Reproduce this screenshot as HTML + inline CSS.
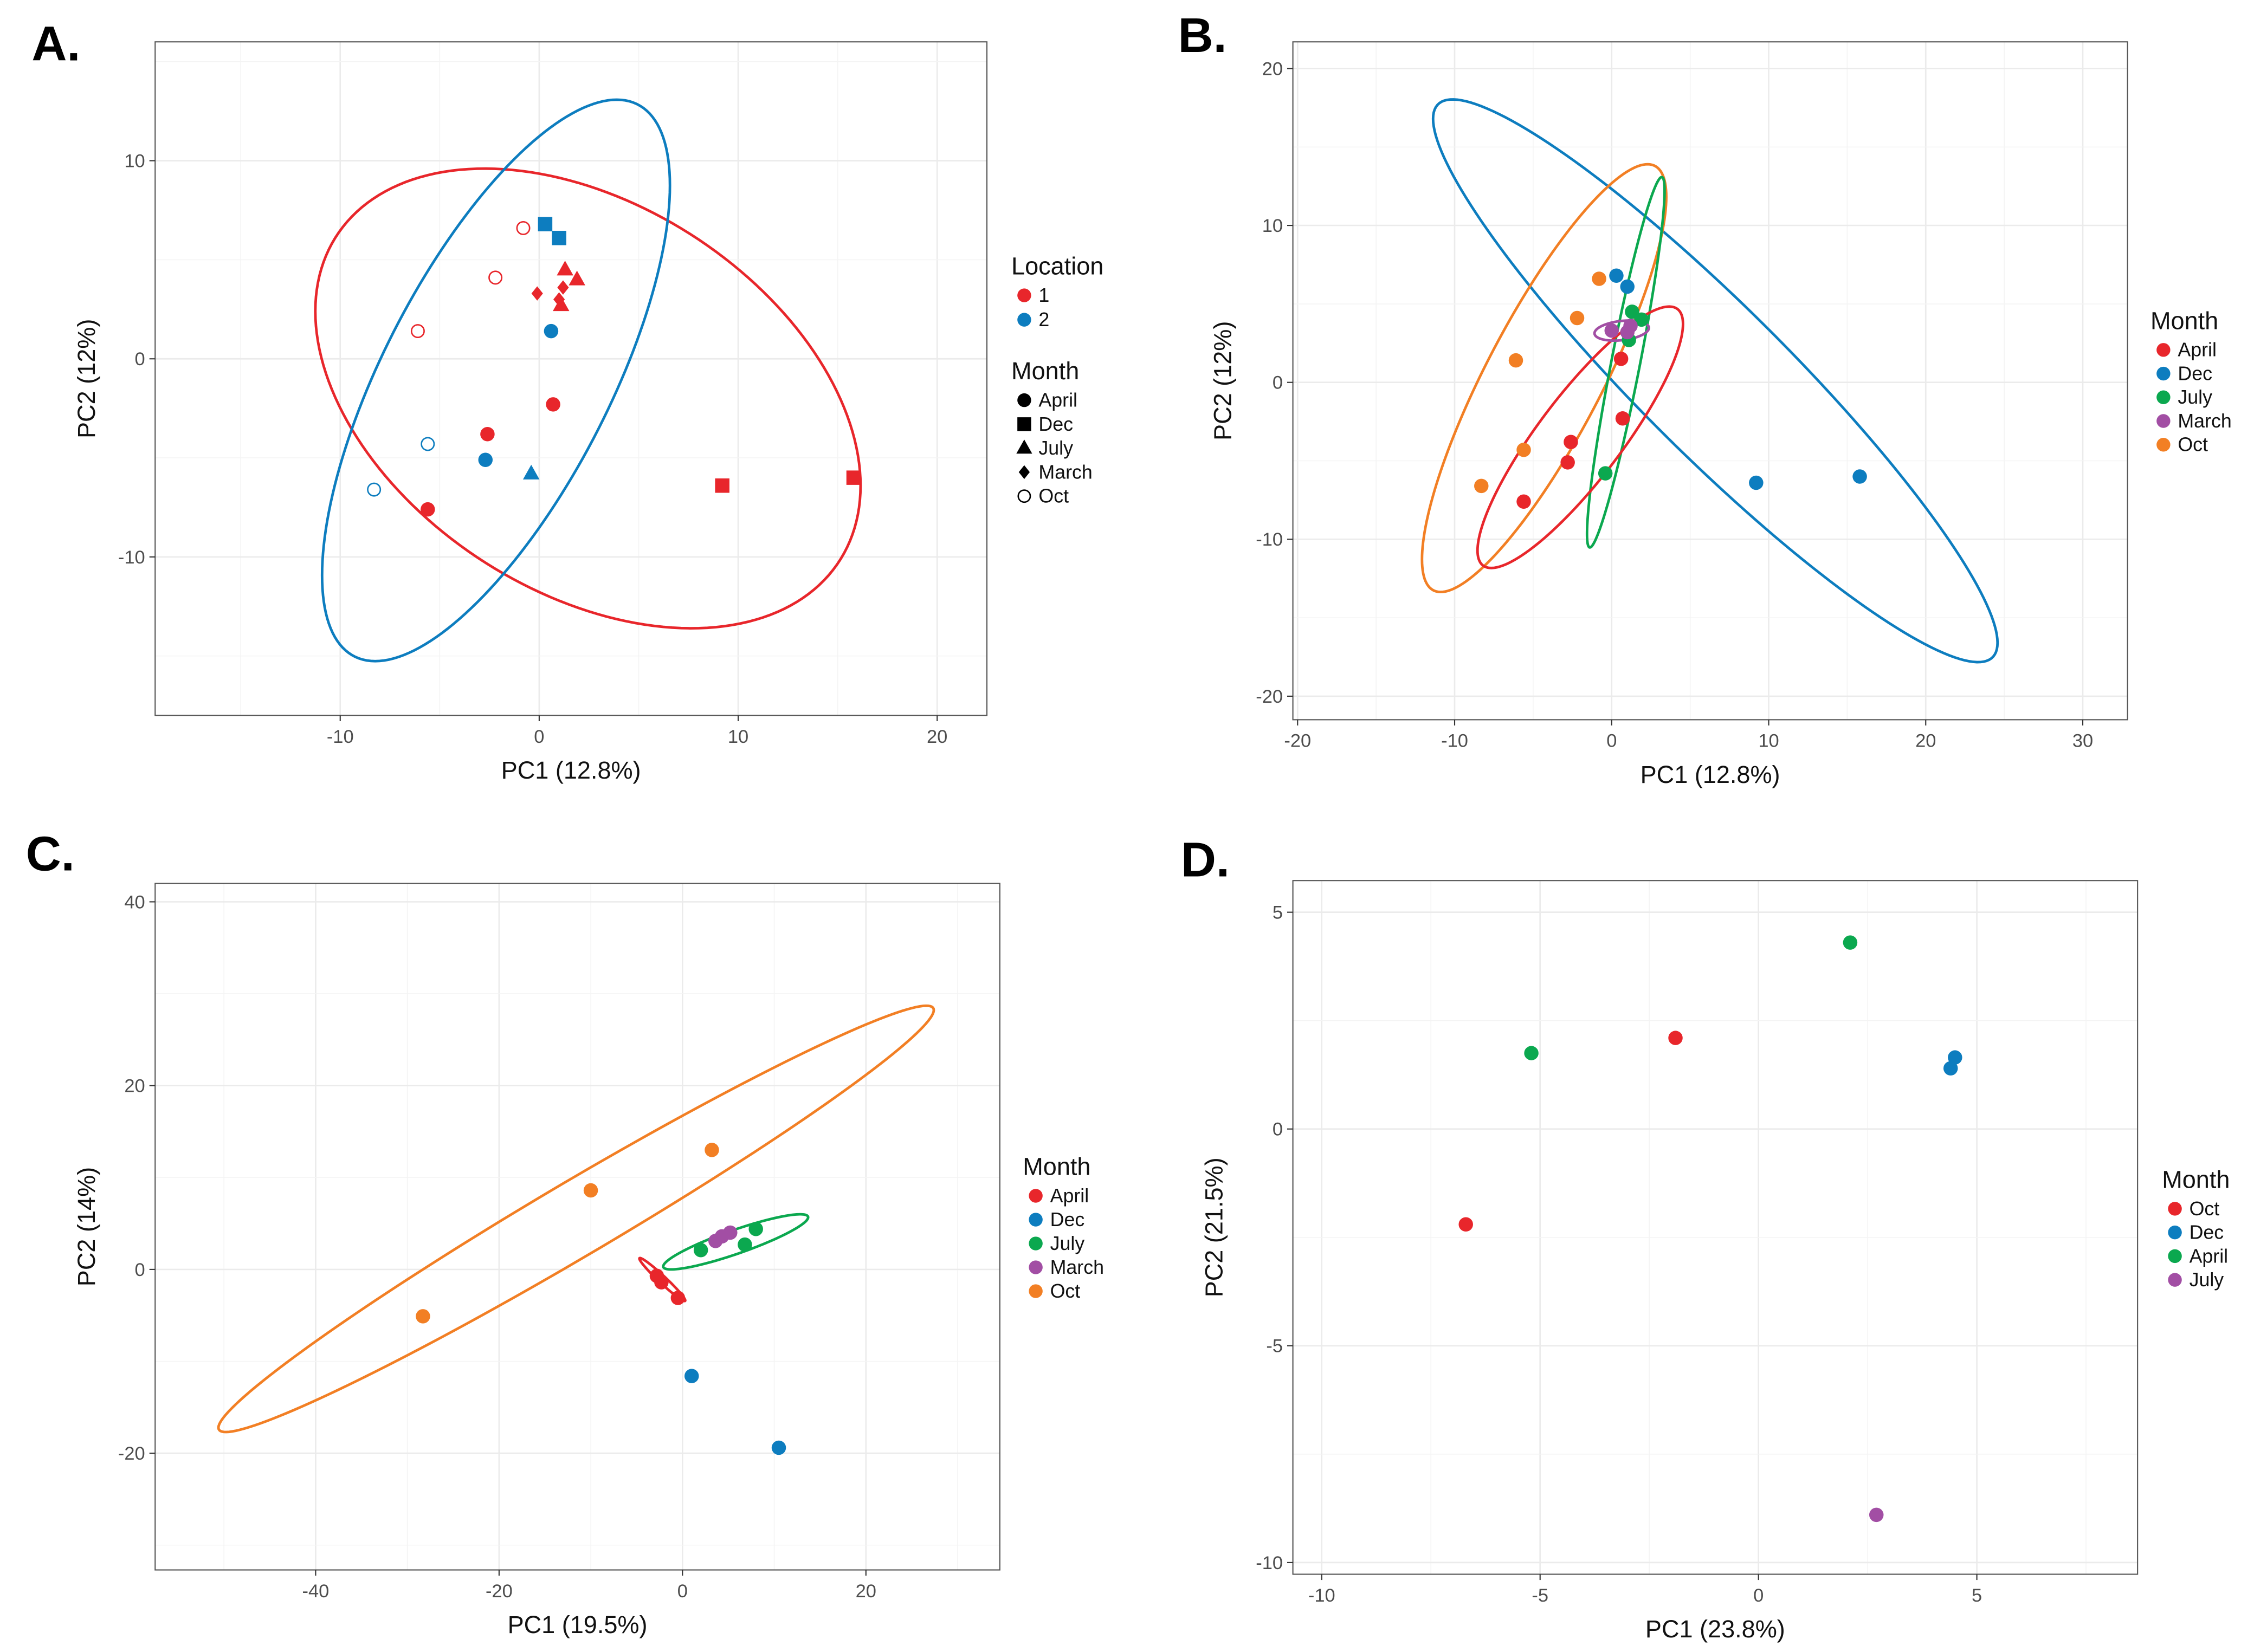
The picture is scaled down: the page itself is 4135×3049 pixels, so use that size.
<!DOCTYPE html>
<html><head><meta charset="utf-8">
<style>
html,body{margin:0;padding:0;background:#fff;}
svg{display:block;}
text{font-family:"Liberation Sans",sans-serif;}
</style></head>
<body>
<svg id="fig" width="4135" height="3049" viewBox="0 0 1560 1150" xmlns="http://www.w3.org/2000/svg"></svg>
<script>
// ---------- Panel A data ----------
const aX = [-0.8,-2.2,-6.1,-5.6,-8.3, 0.3,1.0, 1.3,1.9,1.1, -0.1,1.2,1.0, 0.6,-2.7, 0.7,-2.6,-5.6, -0.4, 9.2,15.8];
const aY = [6.6,4.1,1.4,-4.3,-6.6, 6.8,6.1, 4.5,4.0,2.7, 3.3,3.6,3.0, 1.4,-5.1, -2.3,-3.8,-7.6, -5.8, -6.4,-6.0];
const aLoc = [1,1,1,2,2, 2,2, 1,1,1, 1,1,1, 2,2, 1,1,1, 2, 1,1];
const aMonth = ["Oct","Oct","Oct","Oct","Oct","Dec","Dec","July","July","July","March","March","March","April","April","April","April","April","July","Dec","Dec"];
const aEllLoc = [1,2];
const aEllCenter = [[2.45,-2.0],[-2.17,-1.09]];
const aEllCov = [[187.7,-60.3,134.6],[76.4,86,200.8]];
// ---------- Panel B data ----------
const bX = [0.6,0.7,-2.6,-2.8,-5.6, 0.3,1.0,9.2,15.8, 1.3,1.9,1.1,-0.4, 0.0,1.2,1.0, -0.8,-2.2,-6.1,-5.6,-8.3];
const bY = [1.5,-2.3,-3.8,-5.1,-7.6, 6.8,6.1,-6.4,-6.0, 4.5,4.0,2.7,-5.8, 3.3,3.6,3.2, 6.6,4.1,1.4,-4.3,-6.6];
const bMonth = ["April","April","April","April","April","Dec","Dec","Dec","Dec","July","July","July","July","March","March","March","Oct","Oct","Oct","Oct","Oct"];
const bEllMonth = ["Dec","Oct","July","April","March"];
const bEllCenter = [[6.6,0.1],[-4.3,0.27],[0.9,1.28],[-2.0,-3.5],[0.64,3.3]];
const bEllCov = [[323,-300,321.5],[60.5,89.8,185.8],[6.1,27.0,139.3],[42.8,47.2,69.4],[3.0,0.3,0.41]];
// ---------- Panel C data ----------
const cX = [3.2,-10,-28.3, 2,6.8,8, 3.6,4.3,5.2, -2.8,-2.3,-0.5, 1,10.5];
const cY = [13.0,8.6,-5.1, 2.1,2.7,4.4, 3.1,3.6,4.0, -0.7,-1.4,-3.1, -11.6,-19.4];
const cMonth = ["Oct","Oct","Oct","July","July","July","March","March","March","April","April","April","Dec","Dec"];
const cEllMonth = ["Oct","July","April"];
const cEllCenter = [[-11.6,5.5],[5.8,3.0],[-2.2,-1.1]];
const cEllCov = [[1521,886,538],[62.4,21.1,9.0],[6.25,-5.7,5.48]];
// ---------- Panel D data ----------
const dX = [-1.9,-6.7, 4.4,4.5, 2.1,-5.2, 2.7];
const dY = [2.1,-2.2, 1.4,1.65, 4.3,1.75, -8.9];
const dMonth = ["Oct","Oct","Dec","Dec","April","April","July"];
// ---------- tick labels ----------
const aXTicks = [-10,0,10,20], aYTicks = [-10,0,10];
const bXTicks = [-20,-10,0,10,20,30], bYTicks = [-20,-10,0,10,20];
const cXTicks = [-40,-20,0,20], cYTicks = [-20,0,20,40];
const dXTicks = [-10,-5,0,5], dYTicks = [-10,-5,0,5];

const RED="#e8262b", BLUE="#0d7dbf", GREEN="#0ba84f", PURPLE="#a24ea4", ORANGE="#f27f24";
const monthColor = {April:RED,Dec:BLUE,July:GREEN,March:PURPLE,Oct:ORANGE};
const dColor = {Oct:RED,Dec:BLUE,April:GREEN,July:PURPLE};
const locColor = {1:RED,2:BLUE};
const NS="http://www.w3.org/2000/svg";
const svg=document.getElementById('fig');
function mk(tag,attrs,parent){const e=document.createElementNS(NS,tag);for(const k in attrs)e.setAttribute(k,attrs[k]);(parent||svg).appendChild(e);return e;}
function txt(s,attrs,parent){const e=mk('text',attrs,parent);e.textContent=s;return e;}

function panel(p){
  const g=mk('g',{});
  
  
  const sx=v=>p.x0+(v-p.xmin)/(p.xmax-p.xmin)*(p.x1-p.x0);
  const sy=v=>p.y1-(v-p.ymin)/(p.ymax-p.ymin)*(p.y1-p.y0);
  const bg=mk('rect',{x:p.x0,y:p.y0,width:p.x1-p.x0,height:p.y1-p.y0,fill:'#fff'},g);
  
  
  // grid
  for(let v=Math.ceil(p.xmin/p.minor)*p.minor; v<=p.xmax; v+=p.minor){
    const major=Math.abs(v/p.major-Math.round(v/p.major))<1e-6;
    const l=mk('line',{x1:sx(v),x2:sx(v),y1:p.y0,y2:p.y1,stroke:major?'#ebebeb':'#f4f4f4','stroke-width':major?1:0.6},g);
    
    
  }
  for(let v=Math.ceil(p.ymin/p.yminor)*p.yminor; v<=p.ymax; v+=p.yminor){
    const major=Math.abs(v/p.ymajor-Math.round(v/p.ymajor))<1e-6;
    const l=mk('line',{y1:sy(v),y2:sy(v),x1:p.x0,x2:p.x1,stroke:major?'#ebebeb':'#f4f4f4','stroke-width':major?1:0.6},g);
    
    
  }
  const br=mk('rect',{x:p.x0,y:p.y0,width:p.x1-p.x0,height:p.y1-p.y0,fill:'none',stroke:'#555','stroke-width':0.8},g);
  
  
  // ticks
  p.xt.forEach(v=>{
    mk('line',{x1:sx(v),x2:sx(v),y1:p.y1,y2:p.y1+4,stroke:'#333','stroke-width':0.8},g);
    const t=txt(String(v),{x:sx(v),y:p.y1+19,'text-anchor':'middle','font-size':13,fill:'#4d4d4d'},g);
    
    
  });
  p.yt.forEach(v=>{
    mk('line',{x1:p.x0-4,x2:p.x0,y1:sy(v),y2:sy(v),stroke:'#333','stroke-width':0.8},g);
    const t=txt(String(v),{x:p.x0-7,y:sy(v)+4.5,'text-anchor':'end','font-size':13,fill:'#4d4d4d'},g);
    
    
  });
  const xt=txt(p.xtitle,{x:(p.x0+p.x1)/2,y:p.y1+44,'text-anchor':'middle','font-size':17,fill:'#111'},g);
  
  
  const yc=(p.y0+p.y1)/2;
  const yt=txt(p.ytitle,{x:p.ytx,y:yc,'text-anchor':'middle','font-size':17,fill:'#111',transform:`rotate(-90 ${p.ytx} ${yc})`},g);
  
  
  const lt=txt(p.letter,{x:p.lx,y:p.ly,'font-size':34,'font-weight':'bold',fill:'#000'},g);
  
  
  g.sx=sx; g.sy=sy;
  return g;
}
function ellipse(g,c,cov,color){
  const L11=Math.sqrt(cov[0]), L21=cov[1]/L11, L22=Math.sqrt(Math.max(cov[2]-L21*L21,1e-4));
  let d='';
  for(let i=0;i<=180;i++){const t=i/180*2*Math.PI;
    const x=c[0]+L11*Math.cos(t), y=c[1]+L21*Math.cos(t)+L22*Math.sin(t);
    d+=(i?'L':'M')+g.sx(x).toFixed(2)+' '+g.sy(y).toFixed(2);}
  const e=mk('path',{d:d+'Z',fill:'none',stroke:color,'stroke-width':1.8},g);
  
  
}
function marker(g,shape,cx,cy,color,r){
  let e;
  if(shape==='April') e=mk('circle',{cx,cy,r,fill:color},g);
  else if(shape==='Dec') e=mk('rect',{x:cx-r,y:cy-r,width:2*r,height:2*r,fill:color},g);
  else if(shape==='July') e=mk('path',{d:`M${cx} ${cy-r*1.25}L${cx+r*1.15} ${cy+r*0.8}L${cx-r*1.15} ${cy+r*0.8}Z`,fill:color},g);
  else if(shape==='March') e=mk('path',{d:`M${cx} ${cy-r}L${cx+r*0.8} ${cy}L${cx} ${cy+r}L${cx-r*0.8} ${cy}Z`,fill:color},g);
  else e=mk('circle',{cx,cy,r:r-0.6,fill:'#fff',stroke:color,'stroke-width':1},g);
  return e;
}
function legend(g,x,y,title,labels,colors,shapes,sp){
  const t=txt(title,{x:x,y:y,'font-size':17,fill:'#111'},g);
  
  
  labels.forEach((lab,i)=>{
    const yy=y+19+i*sp;
    const m=shapes?marker(g,shapes[i],x+9,yy-4.5,'#000',4.8):mk('circle',{cx:x+9,cy:yy-4.5,r:4.8,fill:colors[i]},g);
    
    
    const tt=txt(lab,{x:x+19,y:yy,'font-size':13.5,fill:'#111'},g);
    
    
  });
}

// Panel A
const gA=panel({name:'a',x0:108,x1:687,y0:29,y1:498,xmin:-19.3,xmax:22.5,ymin:-18.0,ymax:16.0,minor:5,major:10,yminor:5,ymajor:10,xt:aXTicks,yt:aYTicks,xtitle:'PC1 (12.8%)',ytitle:'PC2 (12%)',ytx:66,letter:'A.',lx:22,ly:42});
aEllLoc.forEach((l,i)=>ellipse(gA,aEllCenter[i],aEllCov[i],locColor[l]));
aX.forEach((v,i)=>{const m=marker(gA,aMonth[i],gA.sx(v),gA.sy(aY[i]),locColor[aLoc[i]],5);
  
  });
legend(gA,704,191,'Location',['1','2'],[RED,BLUE],null,17);
legend(gA,704,264,'Month',['April','Dec','July','March','Oct'],null,['April','Dec','July','March','Oct'],16.7);

// Panel B
const gB=panel({name:'b',x0:900,x1:1481,y0:29,y1:501,xmin:-20.3,xmax:32.85,ymin:-21.5,ymax:21.7,minor:5,major:10,yminor:5,ymajor:10,xt:bXTicks,yt:bYTicks,xtitle:'PC1 (12.8%)',ytitle:'PC2 (12%)',ytx:857,letter:'B.',lx:820,ly:36});
bEllMonth.forEach((m,i)=>ellipse(gB,bEllCenter[i],bEllCov[i],monthColor[m]));
bX.forEach((v,i)=>{const m=mk('circle',{cx:gB.sx(v),cy:gB.sy(bY[i]),r:5,fill:monthColor[bMonth[i]]},gB);
  
  });
legend(gB,1497,229,'Month',['April','Dec','July','March','Oct'],[RED,BLUE,GREEN,PURPLE,ORANGE],null,16.5);

// Panel C
const gC=panel({name:'c',x0:108,x1:696,y0:615,y1:1093,xmin:-57.5,xmax:34.6,ymin:-32.7,ymax:42.0,minor:10,major:20,yminor:10,ymajor:20,xt:cXTicks,yt:cYTicks,xtitle:'PC1 (19.5%)',ytitle:'PC2 (14%)',ytx:66,letter:'C.',lx:18,ly:606});
cEllMonth.forEach((m,i)=>ellipse(gC,cEllCenter[i],cEllCov[i],monthColor[m]));
cX.forEach((v,i)=>{const m=mk('circle',{cx:gC.sx(v),cy:gC.sy(cY[i]),r:5,fill:monthColor[cMonth[i]]},gC);
  
  });
legend(gC,712,818,'Month',['April','Dec','July','March','Oct'],[RED,BLUE,GREEN,PURPLE,ORANGE],null,16.6);

// Panel D
const gD=panel({name:'d',x0:900,x1:1488,y0:613,y1:1096,xmin:-10.66,xmax:8.68,ymin:-10.27,ymax:5.73,minor:2.5,major:5,yminor:2.5,ymajor:5,xt:dXTicks,yt:dYTicks,xtitle:'PC1 (23.8%)',ytitle:'PC2 (21.5%)',ytx:851,letter:'D.',lx:822,ly:610});
dX.forEach((v,i)=>{const m=mk('circle',{cx:gD.sx(v),cy:gD.sy(dY[i]),r:5,fill:dColor[dMonth[i]]},gD);
  
  });
legend(gD,1505,827,'Month',['Oct','Dec','April','July'],[RED,BLUE,GREEN,PURPLE],null,16.5);
</script>
</body></html>
